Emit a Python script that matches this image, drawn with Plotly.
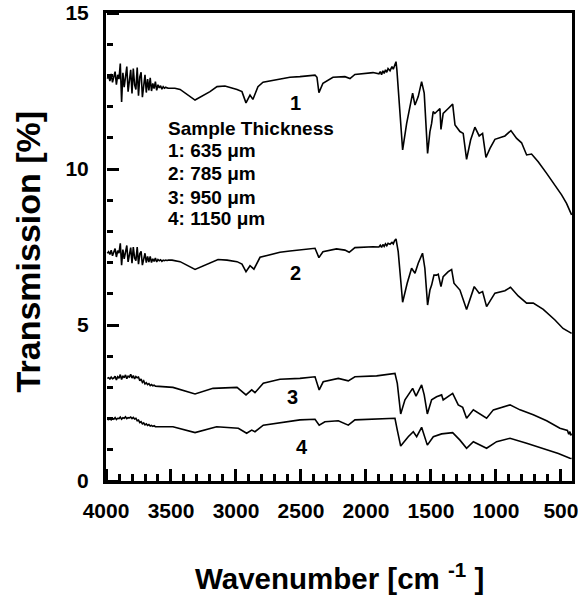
import plotly.graph_objects as go

# ---------------- data ----------------
noise_grid_a = list(range(3990, 3510, -10))   # 48 samples, 3990..3520
noise_grid_b = list(range(3990, 3610, -10))   # 38 samples, 3990..3620

t1_noise = [12.90, 12.98, 12.82, 13.05, 12.78, 12.95, 13.12, 12.70, 13.02, 12.88, 13.38, 12.15,
            13.08, 12.62, 12.95, 13.28, 12.48, 12.85, 13.18, 12.42, 13.22, 12.70, 12.55, 13.25,
            12.35, 12.95, 13.10, 12.30, 12.78, 13.02, 12.45, 12.88, 12.52, 12.92, 12.50, 12.74,
            12.58, 12.80, 12.52, 12.70, 12.60, 12.67, 12.56, 12.64, 12.59, 12.62, 12.60, 12.59]
wn1 = [3470, 3430, 3315, 3200, 3146, 3085, 2992, 2954, 2923, 2892, 2870, 2831, 2792, 2662, 2585,
       2508, 2392, 2377, 2362, 2331, 2254, 2162, 2123, 2085, 1946, 1900, 1890, 1880, 1870, 1860,
       1850, 1840, 1830, 1815, 1800, 1790, 1780, 1769, 1762, 1738, 1718, 1687, 1656, 1641, 1623,
       1598, 1572, 1552, 1526, 1508, 1495, 1483, 1470, 1444, 1431, 1423, 1406, 1367, 1333, 1315,
       1277, 1252, 1226, 1195, 1162, 1129, 1103, 1077, 1046, 1008, 931, 885, 841, 803, 764, 726,
       675, 610, 546, 495, 457, 418]
t1 = [12.59, 12.55, 12.21, 12.48, 12.64, 12.66, 12.55, 12.48, 12.12, 12.37, 12.23, 12.64, 12.78,
      12.87, 12.94, 12.96, 13.01, 12.94, 12.45, 12.75, 12.94, 12.96, 12.90, 13.03, 13.09, 13.05,
      13.12, 13.02, 13.15, 13.06, 13.18, 13.10, 13.22, 13.15, 13.28, 13.20, 13.35, 13.44, 13.17,
      11.68, 10.61, 11.46, 12.10, 12.43, 12.05, 12.32, 12.80, 12.43, 10.50, 11.20, 11.46, 11.84,
      11.78, 11.89, 11.94, 11.27, 11.78, 11.94, 12.08, 11.41, 11.20, 11.14, 10.31, 10.93, 11.34,
      11.06, 11.14, 10.37, 10.66, 10.95, 11.06, 11.23, 10.98, 10.84, 10.45, 10.48, 10.23, 9.86,
      9.49, 9.17, 8.90, 8.53]

t2_noise = [7.30, 7.35, 7.26, 7.40, 7.22, 7.34, 7.45, 7.18, 7.38, 7.30, 7.62, 6.92, 7.42, 7.12,
            7.32, 7.55, 7.02, 7.25, 7.48, 6.98, 7.50, 7.15, 7.06, 7.50, 6.95, 7.28, 7.36, 6.92,
            7.18, 7.30, 7.00, 7.20, 7.02, 7.20, 7.00, 7.12, 7.04, 7.15, 7.02, 7.10, 7.06, 7.09,
            7.04, 7.08, 7.06, 7.08, 7.07, 7.08]
wn2 = [3492, 3430, 3315, 3200, 3138, 3069, 2992, 2954, 2923, 2892, 2862, 2815, 2662, 2585, 2508,
       2392, 2362, 2331, 2227, 2162, 2129, 2085, 1946, 1900, 1890, 1880, 1870, 1860, 1850, 1840,
       1830, 1815, 1800, 1790, 1780, 1769, 1752, 1718, 1683, 1649, 1623, 1598, 1565, 1547, 1526,
       1508, 1495, 1477, 1457, 1444, 1423, 1406, 1367, 1341, 1323, 1277, 1226, 1167, 1129, 1103,
       1072, 1008, 931, 888, 829, 764, 713, 636, 546, 484, 418]
t2 = [7.08, 7.03, 6.78, 6.98, 7.10, 7.08, 7.03, 6.95, 6.71, 6.90, 6.79, 7.17, 7.33, 7.37, 7.40,
      7.46, 7.16, 7.35, 7.44, 7.40, 7.33, 7.48, 7.51, 7.50, 7.56, 7.49, 7.58, 7.52, 7.60, 7.54,
      7.62, 7.59, 7.65, 7.60, 7.70, 7.76, 7.35, 5.73, 6.34, 6.82, 6.66, 6.98, 7.30, 6.82, 5.64,
      6.12, 6.28, 6.60, 6.60, 6.63, 6.23, 6.55, 6.71, 6.78, 6.34, 6.12, 5.50, 6.23, 6.02, 6.07,
      5.59, 6.02, 6.10, 6.21, 5.93, 5.70, 5.70, 5.50, 5.16, 4.89, 4.73]

t3_noise = [3.29, 3.31, 3.27, 3.33, 3.28, 3.30, 3.36, 3.24, 3.34, 3.29, 3.41, 3.25, 3.37, 3.31,
            3.40, 3.28, 3.36, 3.33, 3.42, 3.30, 3.38, 3.27, 3.35, 3.31, 3.33, 3.21, 3.27, 3.16,
            3.21, 3.11, 3.15, 3.09, 3.12, 3.06, 3.09, 3.05, 3.07, 3.04]
wn3 = [3485, 3315, 3177, 2992, 2923, 2879, 2854, 2790, 2662, 2508, 2392, 2360, 2329, 2213, 2136,
       2085, 1918, 1850, 1777, 1759, 1733, 1700, 1641, 1615, 1572, 1552, 1528, 1495, 1457, 1418,
       1406, 1333, 1290, 1256, 1226, 1174, 1123, 1072, 1020, 892, 815, 713, 610, 508, 450, 440,
       431, 425, 418]
t3 = [3.00, 2.79, 2.97, 3.00, 2.76, 2.92, 2.83, 3.13, 3.26, 3.29, 3.34, 2.92, 3.18, 3.29, 3.21,
      3.34, 3.37, 3.40, 3.45, 3.13, 2.15, 2.60, 2.97, 2.72, 3.08, 2.76, 2.15, 2.60, 2.70, 2.76,
      2.60, 2.81, 2.44, 2.36, 2.01, 2.28, 2.15, 2.01, 2.28, 2.44, 2.28, 2.12, 1.93, 1.69, 1.62,
      1.50, 1.58, 1.46, 1.52]

t4_noise = [1.98, 1.97, 2.00, 1.96, 2.01, 1.98, 2.03, 1.97, 2.01, 2.00, 2.05, 1.98, 2.03, 2.01,
            2.06, 2.00, 2.03, 2.02, 2.05, 2.00, 2.04, 1.99, 2.01, 1.93, 1.95, 1.87, 1.90, 1.83,
            1.86, 1.80, 1.83, 1.78, 1.81, 1.76, 1.78, 1.75, 1.77, 1.74]
wn4 = [3485, 3315, 3149, 2982, 2918, 2879, 2854, 2790, 2508, 2392, 2360, 2316, 2213, 2136, 2085,
       1777, 1759, 1733, 1675, 1636, 1610, 1572, 1528, 1482, 1418, 1333, 1277, 1226, 1174, 1123,
       1072, 995, 892, 764, 636, 520, 431, 418]
t4 = [1.74, 1.55, 1.74, 1.69, 1.53, 1.63, 1.58, 1.79, 1.96, 1.98, 1.79, 1.90, 1.93, 1.79, 1.96,
      2.01, 1.63, 1.12, 1.42, 1.58, 1.42, 1.72, 1.15, 1.42, 1.51, 1.55, 1.31, 1.05, 1.26, 1.15,
      1.05, 1.26, 1.37, 1.21, 1.05, 0.88, 0.73, 0.72]

curve_labels = ["1", "2", "3", "4"]
label_wn = [2546, 2546, 2562, 2492]
label_t = [12.12, 6.67, 2.69, 1.09]

legend_lines = ["Sample Thickness", "1: 635 \u03bcm", "2: 785 \u03bcm", "3: 950 \u03bcm", "4: 1150 \u03bcm"]
legend_wn = 3538
legend_t = [11.31, 10.60, 9.86, 9.10, 8.40]

X_RANGE = [4000, 415]
Y_RANGE = [0, 15]

# ---------------- figure ----------------
FONT = "Liberation Sans, Arial, sans-serif"
series = [
    (noise_grid_a + wn1, t1_noise + t1),
    (noise_grid_a + wn2, t2_noise + t2),
    (noise_grid_b + wn3, t3_noise + t3),
    (noise_grid_b + wn4, t4_noise + t4),
]

fig = go.Figure()
for (xs, ys), name in zip(series, curve_labels):
    fig.add_trace(go.Scatter(x=xs, y=ys, mode="lines", name=name,
                             line=dict(color="black", width=1.6), showlegend=False))
# empty trace that carries the tick-only overlay axes (ticks pointing into the frame)
fig.add_trace(go.Scatter(x=[], y=[], xaxis="x2", yaxis="y2", mode="lines",
                         showlegend=False, hoverinfo="skip"))

annotations = []
for lab, xw, yt in zip(curve_labels, label_wn, label_t):
    annotations.append(dict(x=xw, y=yt, xref="x", yref="y", text="<b>%s</b>" % lab,
                            showarrow=False, font=dict(family=FONT, size=20, color="black")))
for txt, yt in zip(legend_lines, legend_t):
    annotations.append(dict(x=legend_wn, y=yt, xref="x", yref="y", text="<b>%s</b>" % txt,
                            xanchor="left", showarrow=False,
                            font=dict(family=FONT, size=19, color="black")))
annotations.append(dict(x=-0.168, y=0.49, xref="paper", yref="paper", textangle=-90,
                        text="<b>Transmission [%]</b>", showarrow=False,
                        xanchor="center", yanchor="middle",
                        font=dict(family=FONT, size=34, color="black")))
annotations.append(dict(x=0.5, y=-0.205, xref="paper", yref="paper",
                        text="<b>Wavenumber [cm <sup>-1</sup> ]</b>", showarrow=False,
                        xanchor="center", yanchor="middle",
                        font=dict(family=FONT, size=29.5, color="black")))

tickfont = dict(family=FONT, size=21, color="black", weight="bold")
fig.update_layout(
    template="none",
    width=578, height=597,
    margin=dict(l=106, r=6, t=13, b=116),
    paper_bgcolor="white", plot_bgcolor="white",
    annotations=annotations,
    xaxis=dict(range=X_RANGE, tickmode="linear", tick0=0, dtick=500, ticks="",
               showline=True, linewidth=3, linecolor="black", mirror=True,
               showgrid=False, zeroline=False, ticklabeloverflow="allow",
               ticklabelstandoff=9, tickfont=tickfont),
    yaxis=dict(range=Y_RANGE, tickmode="linear", tick0=0, dtick=5, ticks="",
               showline=True, linewidth=3, linecolor="black", mirror=True,
               showgrid=False, zeroline=False, ticklabelstandoff=10, tickfont=tickfont),
    # top-side axis placed on the bottom edge: its outward ticks point up into the plot
    xaxis2=dict(range=X_RANGE, overlaying="x", side="top", anchor="free", position=0,
                tickmode="linear", tick0=0, dtick=500,
                ticks="outside", ticklen=12, tickwidth=3, tickcolor="black",
                minor=dict(dtick=100, tick0=0, ticks="outside", ticklen=7, tickwidth=3,
                           tickcolor="black"),
                showticklabels=False, showline=False, showgrid=False, zeroline=False),
    # right-side axis placed on the left edge: its outward ticks point right into the plot
    yaxis2=dict(range=Y_RANGE, overlaying="y", side="right", anchor="free", position=0,
                tickmode="linear", tick0=0, dtick=5,
                ticks="outside", ticklen=12, tickwidth=3, tickcolor="black",
                minor=dict(dtick=1, tick0=0, ticks="outside", ticklen=6, tickwidth=3,
                           tickcolor="black"),
                showticklabels=False, showline=False, showgrid=False, zeroline=False),
)

fig.write_html("out.html")
